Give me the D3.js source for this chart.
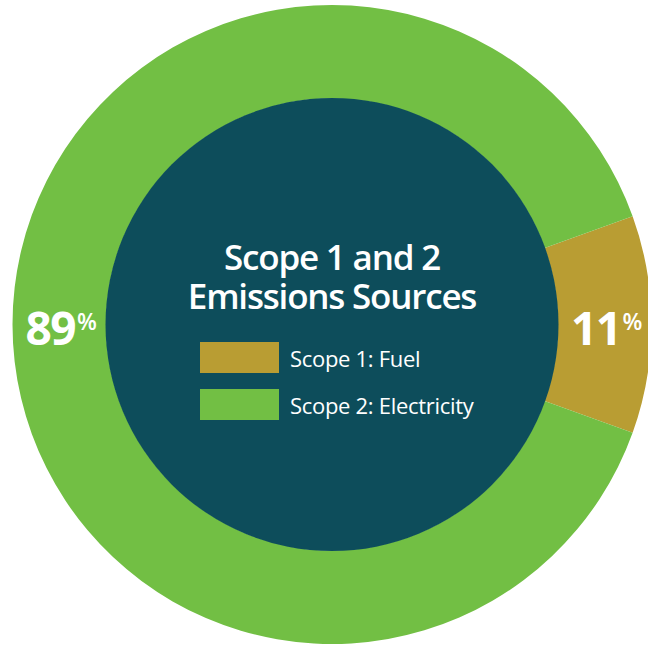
<!DOCTYPE html>
<html><head><meta charset="utf-8">
<script src="https://cdn.jsdelivr.net/npm/d3@7"></script>
<style>body{margin:0;background:#fff;} svg{display:block;}</style>
</head><body>
<svg id="c" width="648" height="645"></svg>
<script>
const categories = ["Scope 1: Fuel", "Scope 2: Electricity"];
const values = [11, 89];
const colors = ["#b99d33", "#72bf44"];
const titleLines = ["Scope 1 and 2", "Emissions Sources"];

const svg = d3.select("#c");
const cx = 332, cy = 324.5, R = 319.5, r = 226;
const g = svg.append("g").attr("transform", `translate(${cx},${cy})`);

const total = d3.sum(values);
const startDeg = 90 - (values[0] / total) * 180;
const pie = d3.pie().sort(null).value(d => d)
  .startAngle(startDeg * Math.PI / 180)
  .endAngle((startDeg + 360) * Math.PI / 180);
const arcs = pie(values);
const arc = d3.arc().innerRadius(r).outerRadius(R);

g.selectAll("path.slice").data(arcs).enter().append("path")
  .attr("class", "slice").attr("d", arc).attr("fill", (d, i) => colors[i]);

g.append("circle").attr("r", r + 0.5).attr("fill", "#0d4d5b");

// percentage labels
const lab = g.selectAll("text.pct").data(arcs).enter().append("text")
  .attr("class", "pct")
  .attr("transform", d => { const c = arc.centroid(d); return `translate(${c[0] + 2},${c[1] + 20.5})`; })
  .attr("text-anchor", "middle")
  .attr("fill", "#fff")
  .attr("font-family", "'Open Sans', sans-serif")
  .attr("font-weight", 700);
lab.append("tspan").attr("font-size", 46).attr("letter-spacing", -1.5).text(d => d.data);
lab.append("tspan").attr("font-size", 23).attr("font-weight", 600).attr("dy", -15).attr("dx", 2).text("%");

// title (one text element, two lines)
const title = g.append("text")
  .attr("text-anchor", "middle").attr("fill", "#fff")
  .attr("font-family", "'Open Sans', sans-serif").attr("font-weight", 600)
  .attr("font-size", 35).attr("letter-spacing", -1.2);
title.selectAll("tspan").data(titleLines).enter().append("tspan")
  .attr("x", 0).attr("y", (d, i) => -54.5 + i * 39)
  .text(d => d);

// legend
const leg = svg.selectAll("g.leg").data(categories).enter().append("g")
  .attr("class", "leg").attr("transform", (d, i) => `translate(200,${342 + i * 47})`);
leg.append("rect").attr("width", 79).attr("height", 31).attr("fill", (d, i) => colors[i]);
leg.append("text").attr("x", 90).attr("y", 25)
  .attr("fill", "#fff").attr("font-family", "'Open Sans', sans-serif")
  .attr("font-size", 22).attr("letter-spacing", -0.3).text(d => d);
</script>
</body></html>
